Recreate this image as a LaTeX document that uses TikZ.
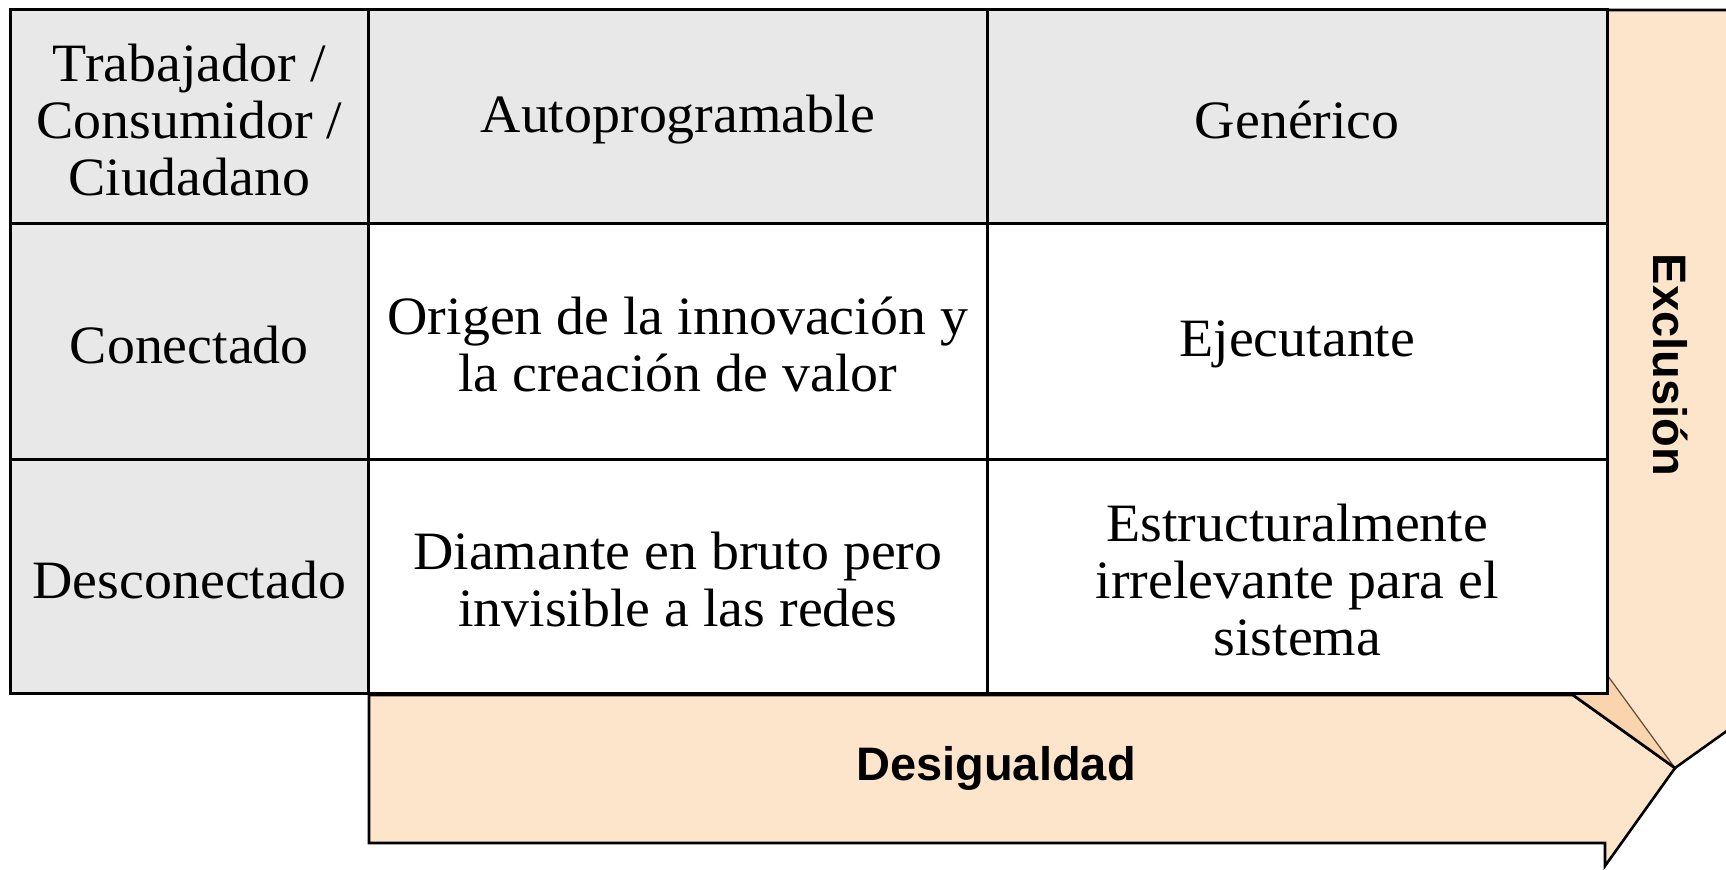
\documentclass[tikz,border=0pt]{standalone}
\usepackage{fontspec}
\setmainfont[FakeStretch=1.035]{Liberation Serif}
\newfontfamily\lsans{Liberation Sans}
\definecolor{peach}{RGB}{253,229,204}
\definecolor{peachdark}{RGB}{250,212,172}
\definecolor{hdrgray}{RGB}{232,232,232}
\definecolor{thinbrown}{RGB}{95,75,55}
\begin{document}
\begin{tikzpicture}[x=0.5pt, y=-0.5pt,
  cell/.style={draw=black, line width=1.3pt, rectangle, inner sep=0pt, anchor=north west},
  hdr/.style={cell, fill=hdrgray},
  body/.style={cell, fill=white},
  celltext/.style={inner sep=0pt, align=center, yshift=-1.7pt, font=\fontsize{27}{28.5}\selectfont},
  lab/.style={font=\lsans\bfseries\fontsize{23.5}{28}\selectfont, inner sep=0pt},
  arrowshape/.style={fill=peach, draw=black, line width=1.3pt, line join=miter}]
\useasboundingbox (0,0) rectangle (1726,870);
\clip (0,0) rectangle (1726,870);
% horizontal arrow (Desigualdad)
\path[arrowshape] (369,695) -- (1605,695) -- (1605,672) -- (1675,768) -- (1605,866)
  -- (1605,843) -- (369,843) -- cycle;
% vertical arrow (Exclusion)
\path[arrowshape] (1605,10) -- (1760,10) -- (1760,693) -- (1780,693) -- (1675,768)
  -- (1570,693) -- (1605,693) -- cycle;
% overlap of the two arrow heads
\fill[peachdark] (1605,672) -- (1675,768) -- (1573,695) -- (1605,695) -- cycle;
\draw[thinbrown, line width=0.6pt] (1605,672) -- (1675,768);
\draw[black, line width=1.3pt] (1573,695) -- (1675,768);
% table cells
\node[hdr, minimum width=179pt, minimum height=107pt] (h0) at (9,8) {};
\node[hdr, minimum width=309.5pt, minimum height=107pt] (h1) at (367,8) {};
\node[hdr, minimum width=310pt, minimum height=107pt] (h2) at (986,8) {};
\node[hdr, minimum width=179pt, minimum height=118pt] (r1) at (9,222) {};
\node[body, minimum width=309.5pt, minimum height=118pt] (c11) at (367,222) {};
\node[body, minimum width=310pt, minimum height=118pt] (c12) at (986,222) {};
\node[hdr, minimum width=179pt, minimum height=117pt] (r2) at (9,458) {};
\node[body, minimum width=309.5pt, minimum height=117pt] (c21) at (367,458) {};
\node[body, minimum width=310pt, minimum height=117pt] (c22) at (986,458) {};
% cell texts
\node[celltext] (h0t) at (h0.center) {Trabajador /\\Consumidor /\\Ciudadano};
\node[celltext] (h1t) at (h1.center) {Autoprogramable};
\node[celltext] (h2t) at (h2.center) {Genérico};
\node[celltext] (r1t) at (r1.center) {Conectado};
\node[celltext] (c11t) at (c11.center) {Origen de la innovación y\\la creación de valor};
\node[celltext] (c12t) at (c12.center) {Ejecutante};
\node[celltext] (r2t) at (r2.center) {Desconectado};
\node[celltext] (c21t) at (c21.center) {Diamante en bruto pero\\invisible a las redes};
\node[celltext] (c22t) at (c22.center) {Estructuralmente\\irrelevante para el\\sistema};
% labels
\node[lab] (desig) at (996,768) {Desigualdad};
\node[lab, rotate=-90] (excl) at (1670,365) {Exclusión};
\end{tikzpicture}
\end{document}
